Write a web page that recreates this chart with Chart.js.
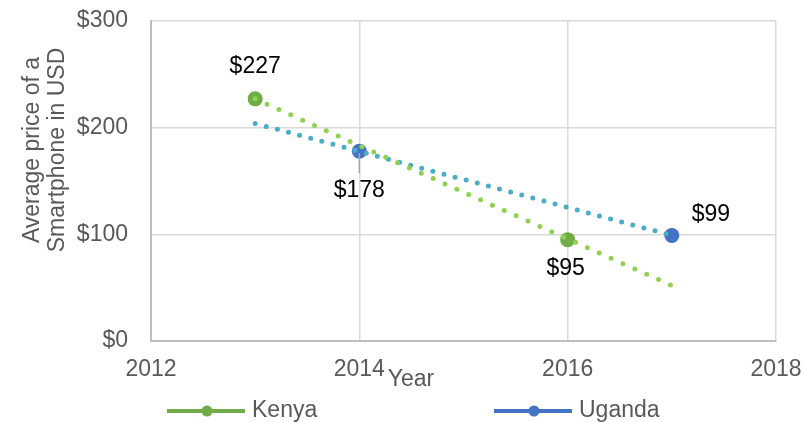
<!DOCTYPE html>
<html>
<head>
<meta charset="utf-8">
<script src="https://cdn.jsdelivr.net/npm/chart.js@4.4.1/dist/chart.umd.min.js"></script>
<style>
  html, body { margin: 0; padding: 0; background: #ffffff; }
  #wrap { width: 805px; height: 422px; }
</style>
</head>
<body>
<div id="wrap"><canvas id="chart" width="805" height="422"></canvas></div>
<script>
// Average smartphone price (USD) by year
const kenyaYears = [2013, 2016];
const kenyaPrices = [227, 95];
const ugandaYears = [2014, 2017];
const ugandaPrices = [178, 99];

// Linear trend lines, spanning 2013–2017
const trendYears = [2013, 2017];
const kenyaTrend = [227, 52];
const ugandaTrend = [204, 99];

// Axis ticks
const xTicks = [2012, 2014, 2016, 2018];
const yTicks = [0, 100, 200, 300];

const FONT = '"Liberation Sans", Arial, sans-serif';
const FONT_SIZE = 23;
const GREY_TEXT = '#595959';
const KENYA = '#70AD47';
const UGANDA = '#4472C4';
const KENYA_TREND = '#92D050';
const UGANDA_TREND = '#4BACC6';

const toPoints = (xs, ys) => xs.map((x, i) => ({ x: x, y: ys[i] }));

// Label placement relative to each point (dataset index -> per-point offset)
const labelPlacement = {
  0: [{ dx: 0, dy: -32 }, { dx: -2, dy: 29 }],
  1: [{ dx: 0, dy: 40, leader: true }, { dx: 39, dy: -21 }]
};

const overlay = {
  id: 'overlay',
  afterDatasetsDraw(chart) {
    const ctx = chart.ctx;
    ctx.save();
    // value labels
    ctx.font = FONT_SIZE + 'px ' + FONT;
    ctx.fillStyle = '#000000';
    ctx.textAlign = 'center';
    ctx.textBaseline = 'middle';
    Object.keys(labelPlacement).forEach(k => {
      const di = +k;
      const meta = chart.getDatasetMeta(di);
      const ds = chart.data.datasets[di];
      meta.data.forEach((pt, i) => {
        const p = labelPlacement[di][i];
        const lx = pt.x + p.dx, ly = pt.y + p.dy;
        if (p.leader) {
          ctx.strokeStyle = '#A6A6A6';
          ctx.lineWidth = 1.5;
          ctx.beginPath();
          ctx.moveTo(pt.x, pt.y + 2);
          ctx.lineTo(pt.x, ly - 18);
          ctx.stroke();
        }
        ctx.fillText('$' + ds.data[i].y, lx, ly);
      });
    });
    ctx.restore();
  },
  afterDraw(chart) {
    const ctx = chart.ctx;
    const area = chart.chartArea;
    ctx.save();
    ctx.fillStyle = GREY_TEXT;
    ctx.font = FONT_SIZE + 'px ' + FONT;
    ctx.textBaseline = 'middle';

    // y axis title (two lines, rotated)
    ctx.save();
    ctx.translate(45, 150);
    ctx.rotate(-Math.PI / 2);
    ctx.textAlign = 'center';
    ctx.fillText('Average price of a', 0, -12);
    ctx.fillText('Smartphone in USD', 0, 13);
    ctx.restore();

    // x axis title
    ctx.textAlign = 'center';
    ctx.fillText('Year', 411, area.bottom + 39);

    // legend
    const items = [
      { text: 'Kenya', color: KENYA, x: 167 },
      { text: 'Uganda', color: UGANDA, x: 494 }
    ];
    const ly = 411;
    items.forEach(it => {
      ctx.strokeStyle = it.color;
      ctx.lineWidth = 4;
      ctx.lineCap = 'butt';
      ctx.beginPath();
      ctx.moveTo(it.x, ly);
      ctx.lineTo(it.x + 78, ly);
      ctx.stroke();
      ctx.fillStyle = it.color;
      ctx.beginPath();
      ctx.arc(it.x + 40, ly, 5.5, 0, Math.PI * 2);
      ctx.fill();
      ctx.fillStyle = GREY_TEXT;
      ctx.textAlign = 'left';
      ctx.fillText(it.text, it.x + 85, ly);
    });
    ctx.restore();
  }
};

new Chart(document.getElementById('chart'), {
  type: 'scatter',
  data: {
    datasets: [
      {
        label: 'Kenya',
        data: toPoints(kenyaYears, kenyaPrices),
        backgroundColor: KENYA,
        borderColor: KENYA,
        pointRadius: 7.5,
        pointBorderWidth: 0,
        showLine: false,
        order: 3
      },
      {
        label: 'Uganda',
        data: toPoints(ugandaYears, ugandaPrices),
        backgroundColor: UGANDA,
        borderColor: UGANDA,
        pointRadius: 7.5,
        pointBorderWidth: 0,
        showLine: false,
        order: 3
      },
      {
        label: 'Linear (Kenya)',
        data: toPoints(trendYears, kenyaTrend),
        showLine: true,
        borderColor: KENYA_TREND,
        borderWidth: 5,
        borderDash: [0, 13],
        borderCapStyle: 'round',
        pointRadius: 0,
        fill: false,
        order: 1
      },
      {
        label: 'Linear (Uganda)',
        data: toPoints(trendYears, ugandaTrend),
        showLine: true,
        borderColor: UGANDA_TREND,
        borderWidth: 5,
        borderDash: [0, 11.5],
        borderCapStyle: 'round',
        pointRadius: 0,
        fill: false,
        order: 2
      }
    ]
  },
  options: {
    responsive: false,
    animation: false,
    layout: { padding: { top: 21, right: 29, left: 0, bottom: 0 } },
    plugins: {
      legend: { display: false },
      tooltip: { enabled: false },
      title: { display: false }
    },
    scales: {
      x: {
        type: 'linear',
        min: xTicks[0],
        max: xTicks[xTicks.length - 1],
        afterBuildTicks: s => { s.ticks = xTicks.map(v => ({ value: v })); },
        afterFit: s => { s.height = 81; },
        grid: { color: '#D9D9D9', lineWidth: 1.5, drawTicks: true, tickLength: 14, tickColor: 'rgba(0,0,0,0)' },
        border: { color: '#BFBFBF', width: 2 },
        ticks: {
          color: GREY_TEXT,
          font: { size: FONT_SIZE, family: FONT },
          padding: 1,
          maxRotation: 0,
          callback: v => String(v)
        }
      },
      y: {
        type: 'linear',
        min: yTicks[0],
        max: yTicks[yTicks.length - 1],
        afterBuildTicks: s => { s.ticks = yTicks.map(v => ({ value: v })); },
        afterFit: s => { s.width = 151; },
        grid: { color: '#D9D9D9', lineWidth: 1.5, drawTicks: true, tickLength: 22, tickColor: 'rgba(0,0,0,0)' },
        border: { color: '#BFBFBF', width: 2 },
        ticks: {
          color: GREY_TEXT,
          font: { size: FONT_SIZE, family: FONT },
          padding: 1,
          callback: v => '$' + v
        }
      }
    }
  },
  plugins: [overlay]
});
</script>
</body>
</html>
